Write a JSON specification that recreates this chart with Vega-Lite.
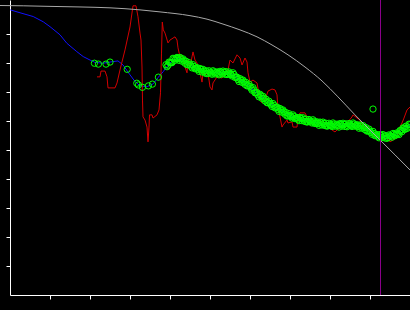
{
  "$schema": "https://vega.github.io/schema/vega-lite/v6.json",
  "width": 400,
  "height": 295,
  "autosize": {"type": "none"},
  "padding": {"left": 10, "top": 0, "right": 0, "bottom": 15},
  "background": "#000000",
  "config": {
    "view": {"stroke": null},
    "axis": {"domainColor": "#ffffff", "tickColor": "#ffffff", "labels": false, "grid": false, "title": null, "tickSize": 4, "domainWidth": 1, "tickWidth": 1, "tickCount": 20}
  },
  "datasets": {
    "gray": [
      {"x": -0.25, "y": 9.98}, {"x": 0.33, "y": 9.97}, {"x": 1.0, "y": 9.95}, {"x": 1.75, "y": 9.93}, {"x": 2.5, "y": 9.9},
      {"x": 3.25, "y": 9.83}, {"x": 3.75, "y": 9.76}, {"x": 4.5, "y": 9.63}, {"x": 4.925, "y": 9.51}, {"x": 5.325, "y": 9.34},
      {"x": 5.75, "y": 9.14}, {"x": 6.175, "y": 8.9}, {"x": 6.55, "y": 8.62}, {"x": 6.95, "y": 8.28}, {"x": 7.375, "y": 7.86},
      {"x": 7.8, "y": 7.38}, {"x": 8.2, "y": 6.83}, {"x": 8.625, "y": 6.21}, {"x": 9.05, "y": 5.62}, {"x": 9.625, "y": 4.83},
      {"x": 10.0, "y": 4.31}
    ],
    "blue": [
      {"x": 0.0075, "y": 9.83}, {"x": 0.25, "y": 9.73}, {"x": 0.58, "y": 9.6}, {"x": 0.83, "y": 9.42}, {"x": 1.0, "y": 9.25},
      {"x": 1.25, "y": 8.97}, {"x": 1.42, "y": 8.68}, {"x": 1.67, "y": 8.39}, {"x": 1.83, "y": 8.22}, {"x": 2.0, "y": 8.1},
      {"x": 2.125, "y": 8.02}, {"x": 2.325, "y": 7.99}, {"x": 2.5, "y": 8.03}, {"x": 2.7, "y": 8.07}, {"x": 2.825, "y": 7.93},
      {"x": 3.0, "y": 7.59}, {"x": 3.125, "y": 7.36}, {"x": 3.25, "y": 7.21}, {"x": 3.42, "y": 7.18}, {"x": 3.58, "y": 7.28},
      {"x": 3.71, "y": 7.51}, {"x": 3.83, "y": 7.7}, {"x": 3.92, "y": 7.87}, {"x": 4.0, "y": 8.0}, {"x": 4.1, "y": 8.11},
      {"x": 4.2, "y": 8.17}, {"x": 4.3, "y": 8.1}, {"x": 4.4, "y": 8.02}, {"x": 4.5, "y": 7.93}, {"x": 4.6, "y": 7.85},
      {"x": 4.75, "y": 7.76}, {"x": 4.9, "y": 7.69}, {"x": 5.1, "y": 7.66}, {"x": 5.4, "y": 7.66}, {"x": 5.55, "y": 7.6},
      {"x": 5.7, "y": 7.45}, {"x": 5.9, "y": 7.29}, {"x": 6.1, "y": 7.04}, {"x": 6.3, "y": 6.82}, {"x": 6.55, "y": 6.55},
      {"x": 6.75, "y": 6.38}, {"x": 6.95, "y": 6.21}, {"x": 7.15, "y": 6.1}, {"x": 7.4, "y": 6.02}, {"x": 7.6, "y": 5.96},
      {"x": 7.8, "y": 5.9}, {"x": 8.0, "y": 5.86}, {"x": 8.6, "y": 5.86}, {"x": 8.8, "y": 5.79}, {"x": 8.95, "y": 5.69},
      {"x": 9.1, "y": 5.54}, {"x": 9.25, "y": 5.48}, {"x": 9.4, "y": 5.45}, {"x": 9.55, "y": 5.49}, {"x": 9.7, "y": 5.58},
      {"x": 9.85, "y": 5.73}, {"x": 10.0, "y": 5.86}
    ],
    "red": [
      {"x": 2.175, "y": 7.52}, {"x": 2.25, "y": 7.52}, {"x": 2.275, "y": 7.72}, {"x": 2.375, "y": 7.72}, {"x": 2.425, "y": 7.52},
      {"x": 2.45, "y": 7.14}, {"x": 2.625, "y": 7.14}, {"x": 2.675, "y": 7.31}, {"x": 2.75, "y": 7.76}, {"x": 2.875, "y": 8.45},
      {"x": 3.0, "y": 9.24}, {"x": 3.075, "y": 9.97}, {"x": 3.15, "y": 9.97}, {"x": 3.2, "y": 9.59}, {"x": 3.25, "y": 9.03},
      {"x": 3.275, "y": 8.79}, {"x": 3.3, "y": 7.86}, {"x": 3.3125, "y": 6.72}, {"x": 3.325, "y": 6.14}, {"x": 3.375, "y": 6.03},
      {"x": 3.425, "y": 5.79}, {"x": 3.45, "y": 5.28}, {"x": 3.475, "y": 5.79}, {"x": 3.4875, "y": 6.21}, {"x": 3.55, "y": 6.21},
      {"x": 3.575, "y": 6.1}, {"x": 3.675, "y": 6.21}, {"x": 3.725, "y": 6.38}, {"x": 3.7625, "y": 6.97}, {"x": 3.7875, "y": 8.34},
      {"x": 3.8075, "y": 9.41}, {"x": 3.8325, "y": 9.14}, {"x": 3.875, "y": 9.03}, {"x": 3.95, "y": 8.69}, {"x": 4.0, "y": 8.79},
      {"x": 4.125, "y": 8.9}, {"x": 4.175, "y": 8.79}, {"x": 4.2, "y": 8.52}, {"x": 4.25, "y": 8.21}, {"x": 4.275, "y": 8.28},
      {"x": 4.325, "y": 8.1}, {"x": 4.375, "y": 7.86}, {"x": 4.425, "y": 7.66}, {"x": 4.45, "y": 8.1}, {"x": 4.5, "y": 7.86},
      {"x": 4.55, "y": 8.21}, {"x": 4.575, "y": 8.38}, {"x": 4.625, "y": 8.1}, {"x": 4.675, "y": 8.0}, {"x": 4.75, "y": 7.66},
      {"x": 4.8, "y": 7.34}, {"x": 4.825, "y": 7.66}, {"x": 4.875, "y": 7.59}, {"x": 4.95, "y": 7.66}, {"x": 5.0, "y": 7.17},
      {"x": 5.05, "y": 7.07}, {"x": 5.075, "y": 7.31}, {"x": 5.175, "y": 7.52}, {"x": 5.3, "y": 7.48}, {"x": 5.45, "y": 7.76},
      {"x": 5.5, "y": 8.1}, {"x": 5.575, "y": 8.0}, {"x": 5.675, "y": 8.28}, {"x": 5.75, "y": 8.17}, {"x": 5.8, "y": 7.93},
      {"x": 5.875, "y": 8.17}, {"x": 5.925, "y": 8.03}, {"x": 5.95, "y": 7.66}, {"x": 6.0, "y": 7.34}, {"x": 6.075, "y": 7.41},
      {"x": 6.175, "y": 7.31}, {"x": 6.25, "y": 6.72}, {"x": 6.3, "y": 6.62}, {"x": 6.375, "y": 6.72}, {"x": 6.45, "y": 7.03},
      {"x": 6.55, "y": 7.1}, {"x": 6.625, "y": 7.07}, {"x": 6.675, "y": 6.9}, {"x": 6.7, "y": 6.38}, {"x": 6.75, "y": 6.14},
      {"x": 6.8, "y": 5.79}, {"x": 6.825, "y": 5.86}, {"x": 6.925, "y": 6.03}, {"x": 6.95, "y": 5.93}, {"x": 7.05, "y": 5.97},
      {"x": 7.075, "y": 5.79}, {"x": 7.175, "y": 5.79}, {"x": 7.2, "y": 6.14}, {"x": 7.25, "y": 6.28}, {"x": 7.375, "y": 6.28},
      {"x": 7.425, "y": 6.14}, {"x": 7.45, "y": 5.93}, {"x": 7.5, "y": 5.86}, {"x": 7.575, "y": 6.03}, {"x": 7.7, "y": 6.03},
      {"x": 7.8, "y": 5.97}, {"x": 7.875, "y": 5.93}, {"x": 7.95, "y": 5.79}, {"x": 8.05, "y": 5.69}, {"x": 8.125, "y": 5.62},
      {"x": 8.175, "y": 5.69}, {"x": 8.25, "y": 5.76}, {"x": 8.325, "y": 5.79}, {"x": 8.425, "y": 5.93}, {"x": 8.55, "y": 6.14},
      {"x": 8.575, "y": 6.21}, {"x": 8.675, "y": 6.1}, {"x": 8.75, "y": 6.03}, {"x": 8.825, "y": 5.79}, {"x": 8.925, "y": 5.76},
      {"x": 9.05, "y": 5.52}, {"x": 9.125, "y": 5.45}, {"x": 9.25, "y": 5.41}, {"x": 9.325, "y": 5.34}, {"x": 9.425, "y": 5.41},
      {"x": 9.5, "y": 5.28}, {"x": 9.575, "y": 5.34}, {"x": 9.675, "y": 5.45}, {"x": 9.75, "y": 5.79}, {"x": 9.8, "y": 5.93},
      {"x": 9.85, "y": 6.1}, {"x": 9.925, "y": 6.38}, {"x": 10.0, "y": 6.48}
    ],
    "green": [
      {"x": 2.11, "y": 7.99}, {"x": 2.21, "y": 7.96}, {"x": 2.4, "y": 7.96}, {"x": 2.5, "y": 8.03}, {"x": 2.93, "y": 7.78},
      {"x": 3.17, "y": 7.3}, {"x": 3.21, "y": 7.24}, {"x": 3.31, "y": 7.16}, {"x": 3.46, "y": 7.21}, {"x": 3.56, "y": 7.27},
      {"x": 3.71, "y": 7.51}, {"x": 9.075, "y": 6.41},
      {"x": 3.9, "y": 7.94}, {"x": 3.95, "y": 7.92}, {"x": 4.0, "y": 8.01}, {"x": 4.05, "y": 8.01}, {"x": 4.1, "y": 8.14},
      {"x": 4.15, "y": 8.15}, {"x": 4.2, "y": 8.15}, {"x": 4.25, "y": 8.19}, {"x": 4.3, "y": 8.06}, {"x": 4.35, "y": 8.08},
      {"x": 4.4, "y": 8.06}, {"x": 4.45, "y": 7.95}, {"x": 4.5, "y": 7.94}, {"x": 4.55, "y": 7.83}, {"x": 4.6, "y": 7.88},
      {"x": 4.65, "y": 7.82}, {"x": 4.7, "y": 7.77}, {"x": 4.75, "y": 7.81}, {"x": 4.8, "y": 7.69}, {"x": 4.85, "y": 7.72},
      {"x": 4.9, "y": 7.73}, {"x": 4.95, "y": 7.65}, {"x": 5.0, "y": 7.68}, {"x": 5.05, "y": 7.61}, {"x": 5.1, "y": 7.69},
      {"x": 5.15, "y": 7.66}, {"x": 5.2, "y": 7.64}, {"x": 5.25, "y": 7.71}, {"x": 5.3, "y": 7.62}, {"x": 5.35, "y": 7.68},
      {"x": 5.4, "y": 7.7}, {"x": 5.45, "y": 7.62}, {"x": 5.5, "y": 7.64}, {"x": 5.55, "y": 7.55}, {"x": 5.6, "y": 7.6},
      {"x": 5.65, "y": 7.51}, {"x": 5.7, "y": 7.43}, {"x": 5.75, "y": 7.46}, {"x": 5.8, "y": 7.33}, {"x": 5.85, "y": 7.35},
      {"x": 5.9, "y": 7.33}, {"x": 5.95, "y": 7.22}, {"x": 6.0, "y": 7.19}, {"x": 6.05, "y": 7.06}, {"x": 6.1, "y": 7.07},
      {"x": 6.15, "y": 6.97}, {"x": 6.2, "y": 6.9}, {"x": 6.25, "y": 6.92}, {"x": 6.3, "y": 6.78}, {"x": 6.35, "y": 6.78},
      {"x": 6.4, "y": 6.75}, {"x": 6.45, "y": 6.63}, {"x": 6.5, "y": 6.61}, {"x": 6.55, "y": 6.5}, {"x": 6.6, "y": 6.54},
      {"x": 6.65, "y": 6.47}, {"x": 6.7, "y": 6.4}, {"x": 6.75, "y": 6.43}, {"x": 6.8, "y": 6.3}, {"x": 6.85, "y": 6.32},
      {"x": 6.9, "y": 6.29}, {"x": 6.95, "y": 6.18}, {"x": 7.0, "y": 6.19}, {"x": 7.05, "y": 6.1}, {"x": 7.1, "y": 6.16},
      {"x": 7.15, "y": 6.1}, {"x": 7.2, "y": 6.06}, {"x": 7.25, "y": 6.12}, {"x": 7.3, "y": 6.01}, {"x": 7.35, "y": 6.06},
      {"x": 7.4, "y": 6.06}, {"x": 7.45, "y": 5.98}, {"x": 7.5, "y": 6.0}, {"x": 7.55, "y": 5.93}, {"x": 7.6, "y": 5.99},
      {"x": 7.65, "y": 5.94}, {"x": 7.7, "y": 5.91}, {"x": 7.75, "y": 5.96}, {"x": 7.8, "y": 5.86}, {"x": 7.85, "y": 5.91},
      {"x": 7.9, "y": 5.92}, {"x": 7.95, "y": 5.84}, {"x": 8.0, "y": 5.87}, {"x": 8.05, "y": 5.81}, {"x": 8.1, "y": 5.89},
      {"x": 8.15, "y": 5.86}, {"x": 8.2, "y": 5.84}, {"x": 8.25, "y": 5.91}, {"x": 8.3, "y": 5.82}, {"x": 8.35, "y": 5.88},
      {"x": 8.4, "y": 5.9}, {"x": 8.45, "y": 5.83}, {"x": 8.5, "y": 5.87}, {"x": 8.55, "y": 5.81}, {"x": 8.6, "y": 5.89},
      {"x": 8.65, "y": 5.85}, {"x": 8.7, "y": 5.81}, {"x": 8.75, "y": 5.86}, {"x": 8.8, "y": 5.75}, {"x": 8.85, "y": 5.78},
      {"x": 8.9, "y": 5.77}, {"x": 8.95, "y": 5.66}, {"x": 9.0, "y": 5.65}, {"x": 9.05, "y": 5.54}, {"x": 9.1, "y": 5.57},
      {"x": 9.15, "y": 5.51}, {"x": 9.2, "y": 5.47}, {"x": 9.25, "y": 5.53}, {"x": 9.3, "y": 5.43}, {"x": 9.35, "y": 5.48},
      {"x": 9.4, "y": 5.49}, {"x": 9.45, "y": 5.43}, {"x": 9.5, "y": 5.49}, {"x": 9.55, "y": 5.44}, {"x": 9.6, "y": 5.54},
      {"x": 9.65, "y": 5.54}, {"x": 9.7, "y": 5.56}, {"x": 9.75, "y": 5.67}, {"x": 9.8, "y": 5.63}, {"x": 9.85, "y": 5.75},
      {"x": 9.9, "y": 5.82}, {"x": 9.95, "y": 5.79}, {"x": 10.0, "y": 5.87},
      {"x": 3.925, "y": 7.87}, {"x": 3.975, "y": 8.03}, {"x": 4.025, "y": 8.01}, {"x": 4.075, "y": 8.16}, {"x": 4.125, "y": 8.09},
      {"x": 4.175, "y": 8.19}, {"x": 4.225, "y": 8.09}, {"x": 4.275, "y": 8.14}, {"x": 4.325, "y": 8.14}, {"x": 4.375, "y": 7.99},
      {"x": 4.425, "y": 7.94}, {"x": 4.475, "y": 8.01}, {"x": 4.525, "y": 7.89}, {"x": 4.575, "y": 7.94}, {"x": 4.625, "y": 7.8},
      {"x": 4.675, "y": 7.84}, {"x": 4.725, "y": 7.71}, {"x": 4.775, "y": 7.77}, {"x": 4.825, "y": 7.78}, {"x": 4.875, "y": 7.65},
      {"x": 4.925, "y": 7.63}, {"x": 4.975, "y": 7.73}, {"x": 5.025, "y": 7.65}, {"x": 5.075, "y": 7.73}, {"x": 5.125, "y": 7.62},
      {"x": 5.175, "y": 7.69}, {"x": 5.225, "y": 7.59}, {"x": 5.275, "y": 7.68}, {"x": 5.325, "y": 7.72}, {"x": 5.375, "y": 7.61},
      {"x": 5.425, "y": 7.6}, {"x": 5.475, "y": 7.69}, {"x": 5.525, "y": 7.6}, {"x": 5.575, "y": 7.66}, {"x": 5.625, "y": 7.5},
      {"x": 5.675, "y": 7.51}, {"x": 5.725, "y": 7.36}, {"x": 5.775, "y": 7.41}, {"x": 5.825, "y": 7.41}, {"x": 5.875, "y": 7.26},
      {"x": 5.925, "y": 7.21}, {"x": 5.975, "y": 7.27}, {"x": 6.025, "y": 7.13}, {"x": 6.075, "y": 7.15}, {"x": 6.125, "y": 6.97},
      {"x": 6.175, "y": 6.98}, {"x": 6.225, "y": 6.83}, {"x": 6.275, "y": 6.87}, {"x": 6.325, "y": 6.85}, {"x": 6.375, "y": 6.69},
      {"x": 6.425, "y": 6.63}, {"x": 6.475, "y": 6.68}, {"x": 6.525, "y": 6.56}, {"x": 6.575, "y": 6.6}, {"x": 6.625, "y": 6.45},
      {"x": 6.675, "y": 6.48}, {"x": 6.725, "y": 6.33}, {"x": 6.775, "y": 6.38}, {"x": 6.825, "y": 6.38}, {"x": 6.875, "y": 6.23},
      {"x": 6.925, "y": 6.17}, {"x": 6.975, "y": 6.25}, {"x": 7.025, "y": 6.15}, {"x": 7.075, "y": 6.21}, {"x": 7.125, "y": 6.08},
      {"x": 7.175, "y": 6.12}, {"x": 7.225, "y": 6.01}, {"x": 7.275, "y": 6.08}, {"x": 7.325, "y": 6.11}, {"x": 7.375, "y": 5.98},
      {"x": 7.425, "y": 5.96}, {"x": 7.475, "y": 6.05}, {"x": 7.525, "y": 5.97}, {"x": 7.575, "y": 6.04}, {"x": 7.625, "y": 5.91},
      {"x": 7.675, "y": 5.97}, {"x": 7.725, "y": 5.85}, {"x": 7.775, "y": 5.93}, {"x": 7.825, "y": 5.96}, {"x": 7.875, "y": 5.84},
      {"x": 7.925, "y": 5.82}, {"x": 7.975, "y": 5.92}, {"x": 8.025, "y": 5.84}, {"x": 8.075, "y": 5.93}, {"x": 8.125, "y": 5.82},
      {"x": 8.175, "y": 5.89}, {"x": 8.225, "y": 5.79}, {"x": 8.275, "y": 5.88}, {"x": 8.325, "y": 5.92}, {"x": 8.375, "y": 5.81},
      {"x": 8.425, "y": 5.8}, {"x": 8.475, "y": 5.91}, {"x": 8.525, "y": 5.84}, {"x": 8.575, "y": 5.93}, {"x": 8.625, "y": 5.82},
      {"x": 8.675, "y": 5.87}, {"x": 8.725, "y": 5.75}, {"x": 8.775, "y": 5.82}, {"x": 8.825, "y": 5.84}, {"x": 8.875, "y": 5.7},
      {"x": 8.925, "y": 5.65}, {"x": 8.975, "y": 5.72}, {"x": 9.025, "y": 5.6}, {"x": 9.075, "y": 5.64}, {"x": 9.125, "y": 5.49},
      {"x": 9.175, "y": 5.53}, {"x": 9.225, "y": 5.42}, {"x": 9.275, "y": 5.5}, {"x": 9.325, "y": 5.53}, {"x": 9.375, "y": 5.41},
      {"x": 9.425, "y": 5.4}, {"x": 9.475, "y": 5.52}, {"x": 9.525, "y": 5.47}, {"x": 9.575, "y": 5.57}, {"x": 9.625, "y": 5.49},
      {"x": 9.675, "y": 5.59}, {"x": 9.725, "y": 5.53}, {"x": 9.775, "y": 5.67}, {"x": 9.825, "y": 5.76}, {"x": 9.875, "y": 5.71},
      {"x": 9.925, "y": 5.74}, {"x": 9.975, "y": 5.89}
    ],
    "marker": [{"x": 9.2625}]
  },
  "layer": [
    {
      "data": {"name": "blue"},
      "mark": {"type": "line", "color": "#1010ff", "strokeWidth": 1},
      "encoding": {
        "x": {"field": "x", "type": "quantitative", "scale": {"domain": [0, 10], "nice": false, "zero": false}, "axis": {"values": [1, 2, 3, 4, 5, 6, 7, 8, 9, 10], "tickCount": 20}},
        "y": {"field": "y", "type": "quantitative", "scale": {"domain": [0, 10.17], "nice": false, "zero": false}, "axis": {"values": [1, 2, 3, 4, 5, 6, 7, 8, 9], "tickCount": 20}}
      }
    },
    {
      "data": {"name": "red"},
      "mark": {"type": "line", "color": "#d40000", "strokeWidth": 1},
      "encoding": {
        "x": {"field": "x", "type": "quantitative"},
        "y": {"field": "y", "type": "quantitative"}
      }
    },
    {
      "data": {"name": "green"},
      "mark": {"type": "point", "shape": "circle", "filled": false, "color": "#00ff00", "size": 40, "strokeWidth": 1, "opacity": 1},
      "encoding": {
        "x": {"field": "x", "type": "quantitative"},
        "y": {"field": "y", "type": "quantitative"}
      }
    },
    {
      "data": {"name": "gray"},
      "mark": {"type": "line", "color": "#a8a8a8", "strokeWidth": 1, "interpolate": "monotone", "clip": false},
      "encoding": {
        "x": {"field": "x", "type": "quantitative"},
        "y": {"field": "y", "type": "quantitative"}
      }
    },
    {
      "data": {"name": "marker"},
      "mark": {"type": "rule", "color": "#8a008a", "strokeWidth": 1},
      "encoding": {
        "x": {"field": "x", "type": "quantitative"}
      }
    }
  ]
}
